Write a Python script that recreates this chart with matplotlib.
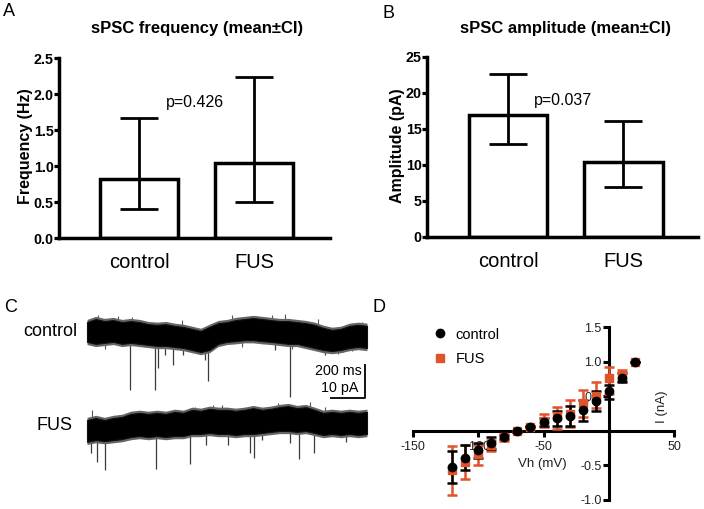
import numpy as np
import matplotlib
matplotlib.use("Agg")
import matplotlib.pyplot as plt
from matplotlib.lines import Line2D

plt.rcParams['font.family'] = ['Liberation Sans', 'DejaVu Sans']
plt.rcParams['axes.unicode_minus'] = False

# ---------------- data ----------------
groups = ["control", "FUS"]
freq_mean = [0.815, 1.046]
freq_lo = [0.40, 0.504]
freq_hi = [1.66, 2.24]
freq_ticks = [0.0, 0.5, 1.0, 1.5, 2.0, 2.5]
freq_ticklabels = ["0.0", "0.5", "1.0", "1.5", "2.0", "2.5"]

amp_mean = [17.0, 10.45]
amp_lo = [12.9, 6.9]
amp_hi = [22.6, 16.15]
amp_ticks = [0, 5, 10, 15, 20, 25]
amp_ticklabels = ["0", "5", "10", "15", "20", "25"]

# traces (time in ms, current in pA); envelope of the noisy band
trace_t = [0, 50, 100, 150, 200, 250, 300, 350, 400, 450, 500, 550, 600, 650, 700, 750,
           800, 850, 900, 950, 1000, 1050, 1100, 1150, 1200, 1250, 1300, 1350, 1400, 1450,
           1500, 1550, 1600]
ctrl_upper = [3.2, 4.1, 3.5, 3.8, 3.2, 3.5, 3.2, 2.6, 2.4, 2.6, 2.1, 1.8, 1.2, 0.6, 1.8, 2.9,
              3.2, 3.8, 4.1, 4.4, 4.1, 3.8, 3.5, 3.5, 3.2, 2.9, 2.4, 1.5, 0.9, 1.2, 2.1, 2.4, 2.1]
ctrl_lower = [-2.6, -3.2, -2.9, -2.6, -3.2, -2.9, -3.2, -3.5, -3.8, -3.8, -4.1, -4.4, -5.0, -5.6,
              -5.0, -3.2, -2.6, -2.4, -2.1, -2.1, -2.4, -2.6, -2.9, -3.2, -3.2, -3.8, -4.4, -5.0,
              -5.3, -5.0, -4.4, -4.1, -4.4]
fus_upper = [-25.6, -25.0, -25.6, -25.0, -24.7, -23.8, -23.5, -23.8, -23.5, -23.8, -23.2, -23.5,
             -22.6, -22.9, -22.3, -22.6, -22.6, -22.9, -22.6, -22.1, -22.6, -22.3, -21.8, -21.5,
             -22.1, -21.8, -22.6, -23.5, -23.2, -23.5, -23.2, -23.5, -23.2]
fus_lower = [-32.0, -31.5, -31.8, -31.5, -31.2, -30.6, -30.3, -30.6, -30.3, -30.6, -30.3, -30.3,
             -29.7, -29.7, -29.4, -29.7, -29.7, -30.0, -29.7, -29.7, -29.4, -29.1, -28.8, -28.8,
             -29.1, -28.8, -29.4, -30.0, -29.7, -30.0, -29.7, -30.0, -29.7]
# downward synaptic events (time, tip)
ctrl_event_t = [246, 389, 404, 446, 490, 547, 674, 690, 1074, 1160, 1360, 1463]
ctrl_event_amp = [-16.8, -16.8, -10.3, -6.5, -9.4, -6.5, -7.9, -14.1, -5.0, -18.8, -6.5, -5.6]
fus_event_t = [23, 57, 103, 198, 394, 589, 680, 806, 931, 954, 998, 1160, 1211, 1297, 1480]
fus_event_amp = [-35.3, -37.9, -40.3, -31.9, -40.0, -38.5, -32.9, -32.9, -35.3, -36.8, -31.5,
                 -32.3, -37.0, -35.3, -32.0]
# small upward / downward noise hairs (time, tip)
ctrl_hair_t = [63, 103, 177, 255, 331, 541, 617, 827, 884, 1055, 1131, 1170, 1320, 1436, 1513, 1570]
ctrl_hair_amp = [5.4, -4.6, 5.0, 4.7, -4.1, 3.8, -5.0, 5.4, -4.1, 5.2, 5.7, -4.7, 4.2, -6.1, -5.3, 3.2]
fus_hair_t = [27, 263, 520, 617, 720, 770, 1091, 1227, 1274, 1360]
fus_hair_amp = [-22.6, -23.5, -22.6, -21.7, -21.2, -21.2, -20.6, -21.2, -20.2, -21.7]

# I-V curves
vh = [-120, -110, -100, -90, -80, -70, -60, -50, -40, -30, -20, -10, 0, 10, 20]
ctrl_i = [-0.52, -0.40, -0.28, -0.18, -0.09, -0.01, 0.06, 0.13, 0.18, 0.22, 0.30, 0.43, 0.57, 0.77, 1.0]
ctrl_hi = [-0.29, -0.20, -0.17, -0.09, -0.06, 0.0, 0.07, 0.19, 0.28, 0.36, 0.45, 0.57, 0.66, 0.84, 1.0]
ctrl_lo = [-0.75, -0.57, -0.40, -0.26, -0.12, -0.02, 0.05, 0.07, 0.07, 0.07, 0.14, 0.28, 0.46, 0.70, 1.0]
fus_i = [-0.57, -0.45, -0.33, -0.21, -0.09, -0.01, 0.06, 0.14, 0.21, 0.25, 0.40, 0.50, 0.76, 0.80, 1.0]
fus_hi = [-0.22, -0.20, -0.20, -0.13, -0.05, 0.0, 0.07, 0.25, 0.35, 0.45, 0.59, 0.70, 0.92, 0.88, 1.0]
fus_lo = [-0.93, -0.70, -0.49, -0.29, -0.15, -0.02, 0.05, 0.06, 0.03, 0.05, 0.20, 0.33, 0.53, 0.72, 1.0]

ORANGE = "#E0532B"
W, H = 704, 509


def fx(x):
    return x / W


def fy(y):
    return 1 - y / H


fig = plt.figure(figsize=(W / 100, H / 100), dpi=100)


def bar_panel(left, right, top, bottom, xl, means, lo, hi, ticks, tlabels, ylabel, ylab_x):
    ax = fig.add_axes([fx(left), fy(bottom), fx(right - left), (bottom - top) / H])
    pos = np.arange(len(means))
    m = np.array(means)
    yerr = [m - np.array(lo), np.array(hi) - m]
    ax.bar(pos, m, width=0.678, color="white", edgecolor="black", linewidth=2.5, zorder=2)
    ax.errorbar(pos, m, yerr=yerr, fmt="none", ecolor="black", elinewidth=2.0,
                capsize=14, capthick=2.0, zorder=3, clip_on=False)
    ax.set_xlim(*xl)
    ax.set_ylim(ticks[0], ticks[-1])
    for s in ["top", "right"]:
        ax.spines[s].set_visible(False)
    for s in ["left", "bottom"]:
        ax.spines[s].set_linewidth(2.5)
    ax.set_xticks(pos)
    ax.set_xticklabels(groups, fontsize=14.5)
    ax.tick_params(axis="x", length=0, pad=11)
    ax.set_yticks(ticks)
    ax.set_yticklabels(tlabels, fontsize=10.3, fontweight="bold")
    ax.tick_params(axis="y", length=3.5, width=2.3, pad=0.3)
    ax.set_ylabel(ylabel, fontsize=11.5, fontweight="bold")
    ax.yaxis.set_label_coords(ylab_x, 0.51)
    return ax


axA = bar_panel(59, 330, 58, 238, (-0.696, 1.661), freq_mean, freq_lo, freq_hi,
                freq_ticks, freq_ticklabels, "Frequency (Hz)", -0.096)
axB = bar_panel(427, 698, 57, 237, (-0.701, 1.645), amp_mean, amp_lo, amp_hi,
                amp_ticks, amp_ticklabels, "Amplitude (pA)", -0.081)

fig.text(fx(197), fy(28), "sPSC frequency (mean±CI)", ha="center", va="center",
         fontsize=12, fontweight="bold")
fig.text(fx(565), fy(28), "sPSC amplitude (mean±CI)", ha="center", va="center",
         fontsize=12, fontweight="bold")
fig.text(fx(166), fy(103), "p=0.426", ha="left", va="center", fontsize=11.5)
fig.text(fx(534), fy(100), "p=0.037", ha="left", va="center", fontsize=11.5)

for lbl, x, y in [("A", 3, 12), ("B", 382, 13), ("C", 4, 308), ("D", 373, 307)]:
    fig.text(fx(x), fy(y), lbl, ha="left", va="center", fontsize=13)

# ---------------- panel C: traces ----------------
axC = fig.add_axes([fx(80), fy(480), fx(290), 180 / H])
axC.set_xlim((80 - 87) / 280 * 1600, (370 - 87) / 280 * 1600)
axC.set_ylim((333 - 480) * 10 / 34, (333 - 300) * 10 / 34)
axC.axis("off")
t = np.array(trace_t)
for up, lo_, ev_t, ev_a, h_t, h_a in [
        (ctrl_upper, ctrl_lower, ctrl_event_t, ctrl_event_amp, ctrl_hair_t, ctrl_hair_amp),
        (fus_upper, fus_lower, fus_event_t, fus_event_amp, fus_hair_t, fus_hair_amp)]:
    up = np.array(up)
    lo_ = np.array(lo_)
    mid = np.interp(ev_t, t, (up + lo_) / 2)
    axC.vlines(ev_t, ev_a, mid, color="#3a3a3a", linewidth=0.9, zorder=1)
    hmid = np.interp(h_t, t, (up + lo_) / 2)
    axC.vlines(h_t, h_a, hmid, color="#555555", linewidth=0.8, zorder=1)
    # grey fringe of noise around the dense core
    axC.fill_between(t, lo_ - 0.8, up + 0.8, color="#666666", linewidth=0, zorder=2)
    axC.fill_between(t, lo_, up, color="black", linewidth=0.8, edgecolor="#111111", zorder=3)

# scale bar
sb_x0, sb_len_t, sb_y0, sb_len_i = 1389, 200, -19.1, 10
axC.plot([sb_x0, sb_x0 + sb_len_t, sb_x0 + sb_len_t],
         [sb_y0, sb_y0, sb_y0 + sb_len_i], color="black", linewidth=1.3,
         solid_capstyle="butt", clip_on=False)
fig.text(fx(362), fy(371), "200 ms", ha="right", va="center", fontsize=10.3)
fig.text(fx(358), fy(388), "10 pA", ha="right", va="center", fontsize=10.3)
fig.text(fx(77), fy(332), "control", ha="right", va="center", fontsize=13)
fig.text(fx(73), fy(425), "FUS", ha="right", va="center", fontsize=13)

# ---------------- panel D: I-V ----------------
axD = fig.add_axes([fx(413), fy(500), fx(674 - 413), (500 - 327) / H])
axD.set_xlim(-150, 50)
axD.set_ylim(-1.0, 1.5)
for s in ["top", "right"]:
    axD.spines[s].set_visible(False)
axD.spines["left"].set_position(("data", 0))
axD.spines["bottom"].set_position(("data", 0))
for s in ["left", "bottom"]:
    axD.spines[s].set_linewidth(2.2)
axD.set_xticks([-150, -100, -50, 0, 50])
axD.set_xticklabels(["-150", "-100", "-50", "", "50"], fontsize=9, color="#222222")
axD.set_yticks([-1.0, -0.5, 0, 0.5, 1.0, 1.5])
axD.set_yticklabels(["-1.0", "-0.5", "", "0.5", "1.0", "1.5"], fontsize=9, color="#222222")
axD.tick_params(axis="x", direction="out", length=4, width=2.2, pad=3)
axD.tick_params(axis="y", direction="out", length=4, width=2.2, pad=1)

for iv, hi_, lo_, col, mk, ms in [(fus_i, fus_hi, fus_lo, ORANGE, "s", 5.5),
                                  (ctrl_i, ctrl_hi, ctrl_lo, "black", "o", 6)]:
    iv = np.array(iv)
    yerr = [iv - np.array(lo_), np.array(hi_) - iv]
    axD.errorbar(vh, iv, yerr=yerr, fmt=mk, color=col, ecolor=col, markersize=ms,
                 elinewidth=1.8, capsize=3.5, capthick=1.8, clip_on=False, zorder=3)

fig.text(fx(542), fy(464), "Vh (mV)", ha="center", va="center", fontsize=9.5, color="#222222")
fig.text(fx(662), fy(407), "I (nA)", ha="center", va="center", fontsize=9.5, rotation=90,
         color="#222222")

handles = [Line2D([], [], ls="none", marker="o", color="black", markersize=6),
           Line2D([], [], ls="none", marker="s", color=ORANGE, markersize=5.5)]
fig.legend(handles, groups, loc="center left", bbox_to_anchor=(fx(434), fy(347)),
           frameon=False, fontsize=10.5, handlelength=0.8, handletextpad=0.7,
           labelspacing=0.75, borderpad=0, borderaxespad=0)

fig.savefig("out.png", dpi=100)
